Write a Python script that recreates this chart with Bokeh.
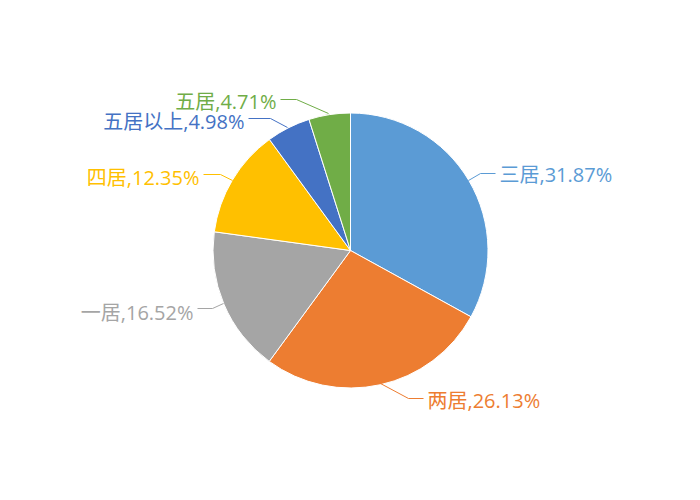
import math
from bokeh.plotting import figure
from bokeh.models import Range1d, ColumnDataSource
from bokeh.core.properties import value
from bokeh.embed import file_html
from bokeh.resources import INLINE

# ---- data ----
categories = ["三居", "两居", "一居", "四居", "五居以上", "五居"]
shares = [31.87, 26.13, 16.52, 12.35, 4.98, 4.71]
colors = ["#5B9BD5", "#ED7D31", "#A5A5A5", "#FFC000", "#4472C4", "#70AD47"]

# ---- layout (screen px; converted to y-up data coords) ----
W, H = 684, 484
CX, CY, R = 350, 250, 137.5
FONT = "Open Sans, Noto Sans CJK SC"
FS = "20px"

# label anchor (x, y_screen, align) and leader polyline points per slice
label_pos = [
    (499, 174, "left"),
    (427, 400, "left"),
    (193, 312, "right"),
    (199, 177, "right"),
    (244, 121, "right"),
    (276, 101, "right"),
]
leaders = [
    [(495, 173), (480, 173), (468, 180)],
    [(423, 398), (408, 398), (380, 383)],
    [(197, 308), (212, 308), (223, 303)],
    [(203, 174), (220, 174), (232, 180)],
    [(248, 118), (270, 118), (287, 127)],
    [(280, 99), (296, 99), (328, 113)],
]

def sy(y):
    return 500 - y

total = sum(shares)
starts, ends = [], []
c = 0.0
for s in shares:
    starts.append(math.pi / 2 - 2 * math.pi * c / total)
    c += s
    ends.append(math.pi / 2 - 2 * math.pi * c / total)

p = figure(width=W, height=H, output_backend="svg", toolbar_location=None,
           x_range=Range1d(0, W), y_range=Range1d(500 - H, 500),
           min_border=0)
p.axis.visible = False
p.grid.visible = False
p.outline_line_color = None
p.background_fill_color = "white"
p.border_fill_color = "white"

src = ColumnDataSource(dict(start=starts, end=ends, color=colors))
p.wedge(x=CX, y=sy(CY), radius=R, start_angle="start", end_angle="end",
        direction="clock", fill_color="color", line_color="white",
        line_width=1, source=src)

for i, cat in enumerate(categories):
    pts = leaders[i]
    p.line([q[0] for q in pts], [sy(q[1]) for q in pts],
           line_color=colors[i], line_width=1)
    lx, ly, al = label_pos[i]
    p.text(x=[lx], y=[sy(ly)], text=[f"{cat},{shares[i]:.2f}%"],
           text_align=al, text_baseline="middle", text_color=colors[i],
           text_font=value(FONT), text_font_size=FS)

open("out.html", "w").write(file_html(p, INLINE))
